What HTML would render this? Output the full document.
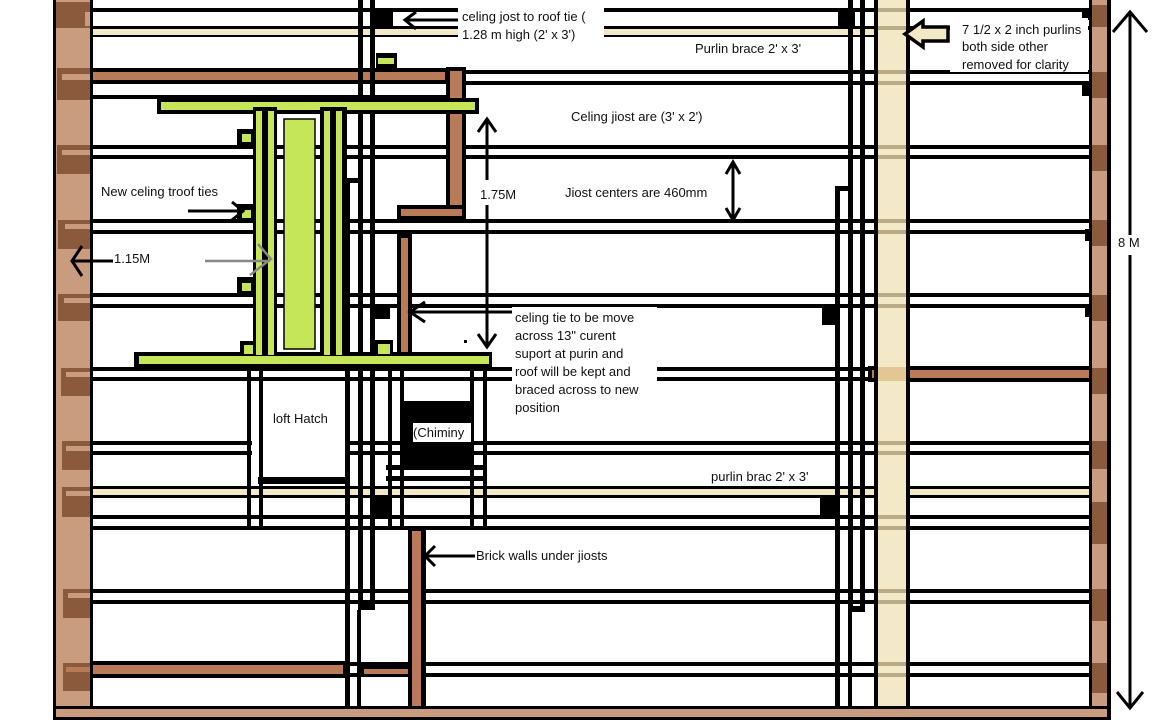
<!DOCTYPE html>
<html><head><meta charset="utf-8"><style>
html,body{margin:0;padding:0;background:#fff;}
svg{display:block;}
text{font-family:"Liberation Sans",sans-serif;font-size:13px;fill:#111;}
</style></head><body>
<svg width="1152" height="720" viewBox="0 0 1152 720" xmlns="http://www.w3.org/2000/svg">
<rect width="1152" height="720" fill="#fff"/>

<g fill="#000">
  <rect x="91" y="8" width="1000" height="4"/>
  <rect x="91" y="26" width="1000" height="4"/>
  <rect x="91" y="34" width="785" height="3"/>
  <rect x="465" y="70" width="625" height="4"/>
  <rect x="465" y="81" width="625" height="4"/>
  <rect x="91" y="95" width="365" height="4"/>
  <rect x="91" y="145" width="1000" height="4"/>
  <rect x="91" y="155" width="1000" height="4"/>
  <rect x="91" y="219" width="1000" height="4"/>
  <rect x="91" y="230" width="1000" height="4"/>
  <rect x="91" y="293" width="1000" height="4"/>
  <rect x="91" y="304" width="1000" height="4"/>
  <rect x="91" y="367" width="1000" height="4"/>
  <rect x="91" y="377" width="1000" height="4"/>
  <rect x="91" y="441" width="1000" height="4"/>
  <rect x="91" y="451" width="1000" height="4"/>
  <rect x="91" y="515" width="1000" height="4"/>
  <rect x="91" y="526" width="1000" height="4"/>
  <rect x="91" y="589" width="1000" height="4"/>
  <rect x="91" y="600" width="1000" height="4"/>
  <rect x="91" y="662" width="1000" height="4"/>
  <rect x="91" y="673" width="1000" height="4"/>
</g>
<rect x="91" y="29" width="785" height="6" fill="#f3e9c6"/>
<rect x="64" y="486" width="1046" height="12" fill="#000"/>
<rect x="66" y="489" width="1042" height="6" fill="#f3e9c6"/>
<rect x="91" y="68" width="358" height="16" fill="#000"/>
<rect x="93" y="72" width="352" height="8" fill="#b97a57"/>
<rect x="868" y="366" width="224" height="16" fill="#000"/>
<rect x="872" y="370" width="218" height="8" fill="#b97a57"/>
<rect x="91" y="661" width="256" height="17" fill="#000"/>
<rect x="93" y="665" width="250" height="9" fill="#b97a57"/>
<rect x="360" y="666" width="52" height="10" fill="#000"/>
<rect x="364" y="669" width="44" height="5" fill="#b97a57"/>

<g fill="#000">
  <rect x="358" y="0" width="5" height="610"/>
  <rect x="370" y="0" width="5" height="610"/>
  <rect x="358" y="604" width="17" height="6"/>
  <rect x="345" y="178" width="5" height="542"/>
  <rect x="345" y="178" width="16" height="5"/>
  <rect x="357" y="610" width="4" height="110"/>
  <rect x="848" y="0" width="5" height="612"/>
  <rect x="860" y="0" width="5" height="612"/>
  <rect x="848" y="606" width="17" height="6"/>
  <rect x="835" y="186" width="5" height="534"/>
  <rect x="835" y="186" width="16" height="5"/>
  <rect x="848" y="612" width="4" height="108"/>
  <rect x="247" y="368" width="4" height="160"/>
  <rect x="259" y="368" width="4" height="160"/>
  <rect x="258" y="477" width="88" height="7"/>
  <rect x="388" y="368" width="4" height="160"/>
  <rect x="400" y="368" width="4" height="160"/>
  <rect x="470" y="368" width="4" height="160"/>
  <rect x="483" y="368" width="4" height="160"/>
  <rect x="386" y="465" width="100" height="5"/>
  <rect x="386" y="476" width="100" height="5"/>
</g>
<rect x="263" y="382" width="82" height="95" fill="#fff"/>
<rect x="252" y="440" width="7" height="17" fill="#fff"/>
<rect x="404" y="401" width="70" height="68" fill="#000"/>
<rect x="413" y="423" width="58" height="19" fill="#fff"/>
<text x="413" y="437">(Chiminy</text>

<rect x="874" y="0" width="36" height="720" fill="#000"/>
<rect x="878" y="0" width="28" height="720" fill="#f3e9c6"/>
<g fill="#b8ab85">
  <rect x="878" y="8" width="28" height="4"/><rect x="878" y="26" width="28" height="4"/>
  <rect x="878" y="70" width="28" height="4"/><rect x="878" y="81" width="28" height="4"/>
  <rect x="878" y="145" width="28" height="4"/><rect x="878" y="155" width="28" height="4"/>
  <rect x="878" y="219" width="28" height="4"/><rect x="878" y="230" width="28" height="4"/>
  <rect x="878" y="293" width="28" height="4"/><rect x="878" y="304" width="28" height="4"/>
  <rect x="878" y="441" width="28" height="4"/><rect x="878" y="451" width="28" height="4"/>
  <rect x="878" y="515" width="28" height="4"/><rect x="878" y="526" width="28" height="4"/>
  <rect x="878" y="589" width="28" height="4"/><rect x="878" y="600" width="28" height="4"/>
  <rect x="878" y="662" width="28" height="4"/><rect x="878" y="673" width="28" height="4"/>
</g>
<rect x="878" y="367" width="28" height="14" fill="#e2c694"/>

<rect x="446" y="67" width="20" height="153" fill="#000"/>
<rect x="450" y="71" width="12" height="145" fill="#b97a57"/>
<rect x="397" y="205" width="69" height="15" fill="#000"/>
<rect x="401" y="209" width="61" height="7" fill="#b97a57"/>
<rect x="397" y="234" width="15" height="128" fill="#000"/>
<rect x="401" y="238" width="7" height="120" fill="#b97a57"/>
<rect x="408" y="529" width="18" height="191" fill="#000"/>
<rect x="412" y="531" width="9" height="189" fill="#b97a57"/>

<rect x="157" y="98" width="322" height="16" fill="#000"/>
<rect x="161" y="102" width="314" height="8" fill="#c6e65a"/>
<rect x="134" y="352" width="358" height="16" fill="#000"/>
<rect x="139" y="356" width="350" height="8" fill="#c6e65a"/>
<rect x="253" y="107" width="24" height="248" fill="#000"/>
<rect x="256" y="111" width="6" height="244" fill="#c6e65a"/>
<rect x="268" y="111" width="6" height="244" fill="#c6e65a"/>
<rect x="320" y="107" width="27" height="248" fill="#000"/>
<rect x="324" y="111" width="6" height="244" fill="#c6e65a"/>
<rect x="336" y="111" width="6" height="244" fill="#c6e65a"/>
<rect x="284" y="119" width="31" height="230" fill="#c6e65a" stroke="#000" stroke-width="1.5"/>
<g fill="#000">
  <rect x="376" y="53" width="21" height="15"/><rect x="237" y="129" width="17" height="17"/>
  <rect x="237" y="204" width="17" height="17"/><rect x="237" y="277" width="17" height="17"/>
  <rect x="240" y="341" width="16" height="15"/><rect x="374" y="340" width="19" height="16"/>
</g>
<g fill="#c6e65a">
  <rect x="378" y="58" width="16" height="6"/><rect x="242" y="134" width="9" height="8"/>
  <rect x="242" y="210" width="9" height="8"/><rect x="242" y="283" width="9" height="8"/>
  <rect x="244" y="345" width="9" height="9"/><rect x="378" y="344" width="12" height="10"/>
</g>

<g fill="#000">
  <rect x="375" y="11" width="18" height="15"/><rect x="374" y="304" width="16" height="15"/>
  <rect x="373" y="496" width="19" height="19"/><rect x="838" y="8" width="17" height="18"/>
  <rect x="822" y="306" width="17" height="19"/><rect x="820" y="497" width="18" height="18"/>
  <rect x="1082" y="10" width="10" height="10"/><rect x="1082" y="82" width="10" height="14"/>
  <rect x="1085" y="229" width="7" height="12"/><rect x="1085" y="305" width="7" height="12"/>
</g>

<rect x="53" y="0" width="40" height="720" fill="#000"/>
<rect x="56" y="0" width="34" height="720" fill="#c99c80"/>
<g fill="#8b5a3c">
  <rect x="56" y="2" width="34" height="26"/><rect x="57" y="68" width="33" height="32"/>
  <rect x="57" y="145" width="33" height="29"/><rect x="58" y="220" width="32" height="29"/>
  <rect x="58" y="294" width="32" height="27"/><rect x="61" y="368" width="29" height="28"/>
  <rect x="62" y="441" width="28" height="29"/><rect x="62" y="487" width="28" height="30"/>
  <rect x="63" y="589" width="27" height="29"/><rect x="63" y="663" width="27" height="28"/>
</g>
<g fill="#c99c80">
  <rect x="85" y="12" width="5" height="14"/><rect x="62" y="74" width="28" height="6"/>
  <rect x="62" y="150" width="28" height="5"/><rect x="65" y="224" width="25" height="5"/>
  <rect x="64" y="298" width="26" height="5"/><rect x="66" y="372" width="24" height="5"/>
  <rect x="66" y="446" width="24" height="5"/><rect x="66" y="491" width="24" height="5"/>
  <rect x="68" y="520" width="22" height="5"/><rect x="68" y="593" width="22" height="5"/>
</g>
<rect x="66" y="667" width="24" height="5" fill="#b97a57"/>
<rect x="1089" y="0" width="22" height="720" fill="#000"/>
<rect x="1092" y="0" width="15" height="720" fill="#c99c80"/>
<g fill="#8b5a3c">
  <rect x="1092" y="5" width="15" height="22"/><rect x="1092" y="72" width="15" height="26"/>
  <rect x="1092" y="145" width="15" height="26"/><rect x="1092" y="220" width="15" height="26"/>
  <rect x="1092" y="295" width="15" height="26"/><rect x="1092" y="368" width="15" height="26"/>
  <rect x="1092" y="441" width="15" height="28"/><rect x="1092" y="502" width="15" height="42"/>
  <rect x="1092" y="589" width="15" height="32"/><rect x="1092" y="663" width="15" height="30"/>
</g>
<rect x="53" y="706" width="1058" height="14" fill="#000"/>
<rect x="56" y="709" width="1051" height="8" fill="#c99c80"/>

<g fill="#fff">
  <rect x="458" y="5" width="146" height="38"/>
  <rect x="950" y="18" width="138" height="54"/>
  <rect x="512" y="307" width="145" height="76"/>
</g>

<g stroke="#000" stroke-width="3" fill="none">
  <line x1="405" y1="20" x2="458" y2="20"/><polyline points="416,12 405,20 416,29"/>
  <line x1="487" y1="120" x2="487" y2="180"/><line x1="487" y1="205" x2="487" y2="346"/>
  <polyline points="478,132 487,119 496,132"/><polyline points="478,334 487,347 496,334"/>
  <line x1="733" y1="163" x2="733" y2="219"/><polyline points="726,174 733,162 740,174"/><polyline points="726,208 733,220 740,208"/>
  <line x1="1130" y1="12" x2="1130" y2="235"/><line x1="1130" y1="255" x2="1130" y2="708"/>
  <polyline points="1113,32 1130,12 1147,32"/><polyline points="1117,692 1130,708 1143,692"/>
  <line x1="72" y1="261" x2="113" y2="261"/><polyline points="82,246 72,261 82,276"/>
  <line x1="188" y1="211" x2="243" y2="211"/><polyline points="232,202 243,211 232,220"/>
  <line x1="410" y1="312" x2="512" y2="312"/><polyline points="425,302 410,312 425,322"/>
  <line x1="425" y1="556" x2="475" y2="556"/><polyline points="435,546 425,556 435,566"/>
</g>
<g stroke="#888" stroke-width="2.5" fill="none">
  <line x1="205" y1="261" x2="270" y2="261"/><polyline points="258,244 271,259 250,275"/>
</g>
<polygon points="905,34 923,21 923,27 948,27 948,41 923,41 923,47" fill="#f3e9c6" stroke="#000" stroke-width="3.5"/>
<rect x="464" y="340" width="3" height="3" fill="#000"/>

<text x="462" y="21">celing jost to roof tie (</text>
<text x="462" y="39">1.28 m high (2' x 3')</text>
<text x="695" y="53">Purlin brace 2' x 3'</text>
<text x="962" y="34">7 1/2 x 2 inch purlins</text>
<text x="962" y="51">both side other</text>
<text x="962" y="69">removed for clarity</text>
<text x="571" y="121">Celing jiost are (3' x 2')</text>
<text x="565" y="197">Jiost centers are 460mm</text>
<text x="480" y="199">1.75M</text>
<text x="101" y="196">New celing troof ties</text>
<text x="114" y="263">1.15M</text>
<text x="1118" y="247">8 M</text>
<text x="515" y="322">celing tie to be move</text>
<text x="515" y="340">across 13" curent</text>
<text x="515" y="358">suport at purin and</text>
<text x="515" y="376">roof will be kept and</text>
<text x="515" y="394">braced across to new</text>
<text x="515" y="412">position</text>
<text x="273" y="423">loft Hatch</text>
<text x="711" y="481">purlin brac 2' x 3'</text>
<text x="476" y="560">Brick walls under jiosts</text>
</svg>
</body></html>
